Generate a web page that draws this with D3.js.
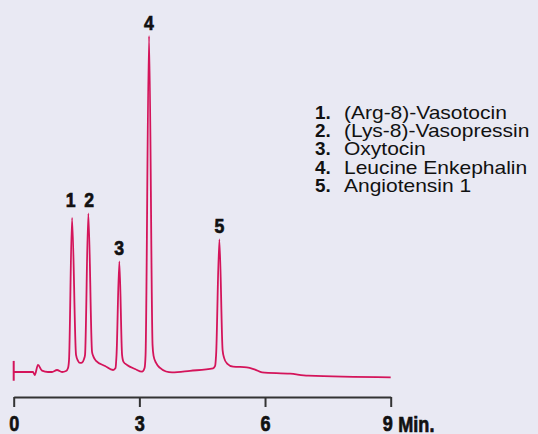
<!DOCTYPE html>
<html>
<head>
<meta charset="utf-8">
<script src="https://cdn.jsdelivr.net/npm/d3@7"></script>
<style>
  html, body { margin: 0; padding: 0; background: #e9e9f3; }
  svg { display: block; }
  .cond { font-family: "Liberation Sans", Arial, Helvetica, sans-serif; font-weight: bold; }
  .leg { font-family: "Liberation Sans", Arial, Helvetica, sans-serif; }
</style>
</head>
<body>
<script>
// ---- data (time in minutes, detector signal in relative units) ----
const traceTime = [0, 0.461, 0.502, 0.580, 0.676, 0.819, 0.915, 1.034, 1.154, 1.249, 1.297, 1.321, 1.393, 1.488, 1.536, 1.583, 1.631, 1.679, 1.703, 1.782, 1.870, 1.906, 1.966, 2.181, 2.372, 2.431, 2.455, 2.522, 2.587, 2.622, 2.706, 2.897, 3.064, 3.124, 3.148, 3.231, 3.315, 3.339, 3.399, 3.494, 3.637, 3.781, 4.211, 4.760, 4.808, 4.832, 4.910, 4.987, 5.022, 5.094, 5.238, 5.565, 5.763, 5.930, 6.599, 7.029, 9.0];
const traceSignal = [0, 0, -0.9, 2.1, 0.4, 0, 0, 0.6, 0, 0.3, 1.2, 3.6, 45.9, 5.1, 3.3, 2.7, 2.8, 3.9, 5.1, 47.2, 6.0, 4.5, 3.3, 1.8, 0.6, 1.2, 5.1, 32.9, 5.1, 3.0, 2.1, 0.9, 0.1, 1.2, 5.1, 100, 8.0, 4.8, 2.7, 1.2, 0.15, -0.1, 0.36, 1.1, 1.8, 5.1, 39.5, 6.5, 4.2, 2.5, 1.6, 1.4, 0.7, -0.1, -0.5, -1.1, -1.6];
const injectionMarker = [3.3, -2.6];          // signal extent of the start marker at t = 0
const peakLabels = ["1", "2", "3", "4", "5"];
const peakLabelTime = [1.36, 1.80, 2.52, 3.23, 4.91];
const peakLabelLevel = [47.2, 47.2, 32.9, 100, 39.5];
const compoundNames = ["(Arg-8)-Vasotocin", "(Lys-8)-Vasopressin", "Oxytocin", "Leucine Enkephalin", "Angiotensin 1"];
const timeTicks = [0, 3, 6, 9];
const timeUnit = "Min.";

// ---- drawing ----
const W = 538, H = 434;
const color = "#d4145a";
const ink = "#111";
const svg = d3.select("body").append("svg").attr("width", W).attr("height", H);
svg.append("rect").attr("width", W).attr("height", H).attr("fill", "#e9e9f3");

const x = d3.scaleLinear().domain([0, 9]).range([13.7, 390.7]);
const y = d3.scaleLinear().domain([0, 100]).range([372, 36]);

// trace
const pts = traceTime.map((t, i) => [t, traceSignal[i]]);
svg.append("path")
  .datum(pts)
  .attr("fill", "none")
  .attr("stroke", color)
  .attr("stroke-width", 1.8)
  .attr("stroke-linejoin", "round")
  .attr("d", d3.line().x(d => x(d[0])).y(d => y(d[1])).curve(d3.curveMonotoneX));

// injection marker
svg.append("line")
  .attr("x1", x(0)).attr("x2", x(0))
  .attr("y1", y(injectionMarker[0])).attr("y2", y(injectionMarker[1]))
  .attr("stroke", color).attr("stroke-width", 2);

// peak labels (condensed heavy)
svg.append("g").selectAll("text")
  .data(peakLabels)
  .join("text")
  .attr("class", "cond")
  .attr("transform", (d, i) => `translate(${x(peakLabelTime[i])},${y(peakLabelLevel[i]) - 6.5}) scale(0.84,1)`)
  .attr("text-anchor", "middle")
  .attr("font-size", 21)
  .attr("fill", ink)
  .attr("stroke", ink)
  .attr("stroke-width", 0.7)
  .text(d => d);

// axis
const axis = d3.axisBottom(x).tickValues(timeTicks).tickSize(10).tickSizeOuter(0).tickPadding(9).tickFormat(d3.format("d"));
const gAxis = svg.append("g").attr("transform", "translate(0,397)").call(axis);
gAxis.select(".domain").attr("stroke", "#333").attr("stroke-width", 2);
gAxis.selectAll(".tick line").attr("stroke", "#333").attr("stroke-width", 2);
gAxis.selectAll(".tick text")
  .attr("class", "cond")
  .attr("font-size", 21.5)
  .attr("fill", ink)
  .attr("stroke", ink)
  .attr("stroke-width", 0.7)
  .attr("transform", "scale(0.84,1)");
gAxis.selectAll(".tick text").filter(d => d === 9).attr("dx", -4);
svg.append("text")
  .attr("class", "cond")
  .attr("transform", `translate(${x(9) + 7.6},431.5) scale(0.84,1)`)
  .attr("font-size", 21.5)
  .attr("fill", ink)
  .attr("stroke", ink)
  .attr("stroke-width", 0.7)
  .text(timeUnit);

// legend
const leg = svg.append("g").attr("transform", "translate(315,119)");
const rows = leg.selectAll("g").data(compoundNames).join("g")
  .attr("transform", (d, i) => `translate(0,${i * 18.2})`);
rows.append("text")
  .attr("class", "leg")
  .attr("font-size", 17.5)
  .attr("font-weight", "bold")
  .attr("fill", ink)
  .attr("transform", "scale(1.08,1)")
  .text((d, i) => (i + 1) + ".");
rows.append("text")
  .attr("class", "leg")
  .attr("font-size", 17.5)
  .attr("fill", ink)
  .attr("transform", "translate(29,0) scale(1.2,1)")
  .text(d => d);
</script>
</body>
</html>
